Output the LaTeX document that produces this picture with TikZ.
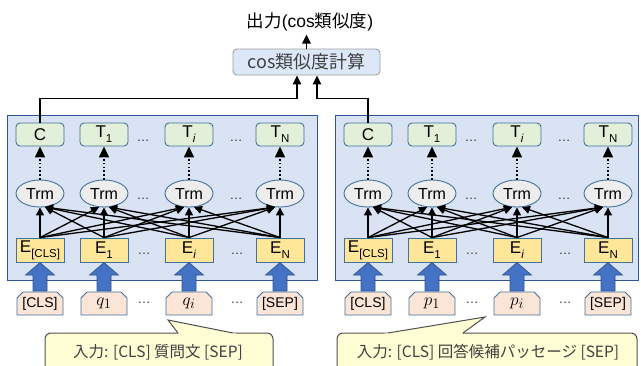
\documentclass[tikz,border=0pt]{standalone}
\usepackage[no-math]{fontspec}
\setmainfont{Liberation Sans}
\newfontfamily\jp{Noto Sans CJK JP}
\usetikzlibrary{arrows.meta,shapes.misc,shapes.geometric}
\definecolor{panelfill}{RGB}{218,227,243}
\definecolor{panelline}{RGB}{47,85,151}
\definecolor{boxline}{RGB}{65,113,156}
\definecolor{tfill}{RGB}{226,240,217}
\definecolor{trmfill}{RGB}{237,237,237}
\definecolor{efill}{RGB}{255,230,153}
\definecolor{infill}{RGB}{251,229,214}
\definecolor{bluearrow}{RGB}{68,114,196}
\definecolor{bluearrowline}{RGB}{47,82,143}
\definecolor{cosfill}{RGB}{220,232,248}
\definecolor{cosline}{RGB}{160,160,160}
\definecolor{callfill}{RGB}{255,253,212}
\definecolor{callline}{RGB}{80,80,80}
\definecolor{textgray}{RGB}{64,64,64}
\newcommand\sbs[1]{\raisebox{-0.28em}{\fontsize{11.5}{11.5}\selectfont #1}}
\begin{document}
\begin{tikzpicture}[x=1pt,y=-1pt,
  panel/.style={draw=panelline,fill=panelfill,line width=0.9pt},
  tbox/.style={rectangle,draw=boxline,fill=tfill,rounded corners=4pt,minimum width=48pt,minimum height=23pt,inner sep=0pt,line width=0.9pt,font=\fontsize{17}{17}\selectfont},
  trm/.style={ellipse,draw=boxline,fill=trmfill,minimum width=48pt,minimum height=27pt,inner sep=0pt,line width=0.9pt,font=\fontsize{16}{16}\selectfont},
  ebox/.style={rectangle,draw=boxline,fill=efill,minimum width=48pt,minimum height=24pt,inner sep=0pt,line width=0.9pt,font=\fontsize{17}{17}\selectfont},
  inbox/.style={chamfered rectangle,chamfered rectangle corners={north west,north east},chamfered rectangle xsep=3pt,chamfered rectangle ysep=3pt,draw=boxline,fill=infill,minimum width=46pt,minimum height=23pt,inner sep=0pt,line width=0.9pt,font=\fontsize{14}{14}\selectfont},
  dotarr/.style={draw=black,line width=1.6pt,dash pattern=on 1.6pt off 2.2pt,-{Triangle[length=11pt,width=10pt]}},
  cross/.style={draw=black,line width=1.3pt,-{Triangle[length=8pt,width=8pt]}},
  conn/.style={draw=black,line width=1.5pt,-{Triangle[length=9pt,width=8.5pt]}},
  bluearr/.style={fill=bluearrow,draw=bluearrowline,line width=0.6pt},
  dots/.style={anchor=base,inner sep=0pt,font=\fontsize{13}{13}\selectfont,text=black!80},
  cosbox/.style={rectangle,draw=cosline,fill=cosfill,rounded corners=4pt,minimum width=147pt,minimum height=26pt,inner sep=0pt,line width=0.9pt,text=textgray,font=\jp\fontsize{18}{18}\selectfont},
  callout/.style={draw=callline,fill=callfill,line width=1pt,rounded corners=6pt},
  calltext/.style={inner sep=0pt,text=textgray,font=\jp\fontsize{15.5}{15.5}\selectfont}
]
\useasboundingbox (0,0) rectangle (641,365);
\draw[panel] (7,115) rectangle (317,280);
\draw[panel] (335,115) rectangle (638,280);

\foreach \side/\off/\v in {L/0/q,R/328/p} {
  \foreach \k/\x/\tl/\el/\il in {1/40/{C}/{E\sbs{[CLS]}}/{[CLS]},
                                  2/104/{T\sbs{1}}/{E\sbs{1}}/{\fontsize{19}{19}\selectfont$\v_1$},
                                  3/189/{T\sbs{\textit{i}}}/{E\sbs{\textit{i}}}/{\fontsize{19}{19}\selectfont$\v_i$},
                                  4/280/{T\sbs{N}}/{E\sbs{N}}/{[SEP]}} {
    \pgfmathsetmacro\cx{\x+\off}
    \node[tbox] (\side t\k) at (\cx,134.5) {\tl};
    \node[trm] (\side r\k) at (\cx,193.5) {Trm};
    \node[ebox] (\side e\k) at (\cx,250) {\el};
    \node[inbox] (\side i\k) at (\cx,303.5) {\il};
    \draw[dotarr] (\side r\k) -- (\side t\k);
    \draw[bluearr] (\cx-7,291) -- (\cx-7,275) -- (\cx-14.5,275) -- (\cx,262.5) -- (\cx+14.5,275) -- (\cx+7,275) -- (\cx+7,291) -- cycle;
  }
  \foreach \j in {1,...,4} {
    \foreach \k in {1,...,4} {
      \ifnum\j=\k \def\ang{south}\else\ifnum\j<\k \def\ang{-110}\else\def\ang{-70}\fi\fi
      \draw[cross] (\side e\j.north) -- (\side r\k.\ang);
    }
  }
  \foreach \dx/\dy [count=\n] in {143/140,236/140,143/198,236/198,144/253,237/253,144/302,237/302} {
    \node[dots] (\side d\n) at (\dx+\off,\dy+1.5) {…};
  }
}

\node[cosbox] (cos) at (306.5,62) {cos類似度計算};
\node[inner sep=0pt,font=\fontsize{17.5}{17.5}\selectfont] (out) at (310,22) {{\jp 出力}(cos{\jp 類似度})};
\draw[conn] (cos.north) -- ++(0,-14);
\draw[conn] (Lt1.north) -- ++(0,-24) -| ([xshift=-9.5pt]cos.south);
\draw[conn] (Rt1.north) -- ++(0,-24) -| ([xshift=10.5pt]cos.south);

% left callout
\draw[callout] (45,333) rectangle (273,395);
\fill[callfill] (168,320) -- (179.2,334.6) -- (240.5,334.6) -- cycle;
\draw[callline,line width=1pt] (178,333) -- (168,320) -- (233,333);
\node[calltext] (cl) at (158,352) {入力: [CLS] 質問文 [SEP]};

% right callout
\draw[callout] (337,333) rectangle (637,395);
\fill[callfill] (485,317) -- (378.9,334.6) -- (460.9,334.6) -- cycle;
\draw[callline,line width=1pt] (388,333) -- (485,317) -- (463,333);
\node[calltext] (cr) at (488,352) {入力: [CLS] 回答候補パッセージ [SEP]};
\end{tikzpicture}
\end{document}
